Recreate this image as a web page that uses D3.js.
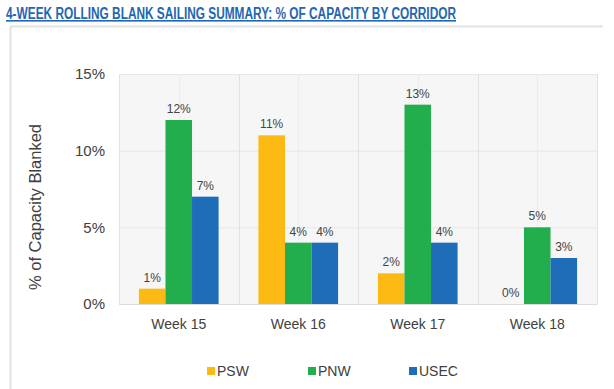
<!DOCTYPE html>
<html>
<head>
<meta charset="utf-8">
<script src="https://cdn.jsdelivr.net/npm/d3@7/dist/d3.min.js"></script>
<style>
  body { margin: 0; background: #fff; }
  svg { display: block; font-family: Arial, "Liberation Sans", sans-serif; }
</style>
</head>
<body>
<div id="chart"></div>
<script>
const width = 614;
const height = 389;

const weeks = ['Week 15', 'Week 16', 'Week 17', 'Week 18'];
const corridors = ['PSW', 'PNW', 'USEC'];
const psw = [1, 11, 2, 0];
const pnw = [12, 4, 13, 5];
const usec = [7, 4, 4, 3];
const yTicks = [0, 5, 10, 15];
const colors = ['#FDBA12', '#22AE4D', '#1E6DB8'];

const series = [psw, pnw, usec];
const margin = { top: 74, right: 17, bottom: 85, left: 119 };

const svg = d3
  .select('#chart')
  .append('svg')
  .attr('width', width)
  .attr('height', height);

// Title (narrow bold face, squeezed to the reference width)
svg
  .append('text')
  .attr('x', 6)
  .attr('y', 19)
  .attr('fill', '#2466B2')
  .attr('textLength', 450)
  .attr('lengthAdjust', 'spacingAndGlyphs')
  .style('font-weight', 'bold')
  .style('font-size', '16px')
  .style('text-decoration', 'underline')
  .text('4-WEEK ROLLING BLANK SAILING SUMMARY: % OF CAPACITY BY CORRIDOR');

// Frame
svg
  .append('path')
  .attr('d', `M10.5,${height} L10.5,26.5 L603,26.5`)
  .attr('fill', 'none')
  .attr('stroke', '#e2e2e2')
  .attr('stroke-width', 2);

const x = d3
  .scaleBand()
  .domain(weeks)
  .range([margin.left, width - margin.right]);

const xInner = d3
  .scaleBand()
  .domain(corridors)
  .range([0, x.bandwidth()])
  .paddingOuter(0.75);

const y = d3
  .scaleLinear()
  .domain([0, 15])
  .range([height - margin.bottom, margin.top]);

// Plot background
svg
  .append('rect')
  .attr('x', margin.left)
  .attr('y', margin.top)
  .attr('width', width - margin.left - margin.right)
  .attr('height', y(0) - margin.top)
  .attr('fill', '#f6f6f6');

// Gridlines
const grid = svg.append('g').attr('stroke', '#e6e6e6');
grid
  .selectAll('.hline')
  .data(yTicks)
  .enter()
  .append('line')
  .attr('x1', margin.left)
  .attr('x2', width - margin.right)
  .attr('y1', (d) => y(d) + 0.5)
  .attr('y2', (d) => y(d) + 0.5);

const vPos = [];
weeks.forEach((w) => {
  vPos.push(x(w));
  vPos.push(x(w) + x.bandwidth() / 2);
});
vPos.push(width - margin.right);
grid
  .selectAll('.vline')
  .data(vPos)
  .enter()
  .append('line')
  .attr('x1', (d) => Math.round(d) + 0.5)
  .attr('x2', (d) => Math.round(d) + 0.5)
  .attr('y1', margin.top)
  .attr('y2', y(0))
  .attr('stroke', (d, i) => (i % 2 ? '#ececec' : '#e2e2e2'));

// Bars
const groups = svg
  .selectAll('.week')
  .data(weeks)
  .enter()
  .append('g')
  .attr('transform', (d) => `translate(${x(d)},0)`);

groups
  .selectAll('rect')
  .data((d, i) => corridors.map((c, j) => ({ c, v: series[j][i], j })))
  .enter()
  .append('rect')
  .attr('x', (d) => xInner(d.c))
  .attr('width', xInner.bandwidth())
  .attr('y', (d) => y(d.v))
  .attr('height', (d) => y(0) - y(d.v))
  .attr('fill', (d) => colors[d.j]);

groups
  .selectAll('.lbl')
  .data((d, i) => corridors.map((c, j) => ({ c, v: series[j][i], j })))
  .enter()
  .append('text')
  .attr('x', (d) => xInner(d.c) + xInner.bandwidth() / 2)
  .attr('y', (d) => y(d.v) - 7)
  .attr('text-anchor', 'middle')
  .attr('fill', '#444')
  .style('font-size', '12px')
  .text((d) => d.v + '%');

// Y axis
const yAxis = svg
  .append('g')
  .attr('transform', `translate(${margin.left},0)`)
  .call(
    d3
      .axisLeft(y)
      .tickValues(yTicks)
      .tickSize(0)
      .tickPadding(14)
      .tickFormat((d) => d + '%')
  );
yAxis.select('.domain').remove();
yAxis
  .selectAll('text')
  .attr('fill', '#404040')
  .style('font-size', '15px')
  .style('font-family', 'Arial, "Liberation Sans", sans-serif');

// X axis
const xAxis = svg
  .append('g')
  .attr('transform', `translate(0,${y(0)})`)
  .call(d3.axisBottom(x).tickSize(0).tickPadding(15));
xAxis.select('.domain').attr('stroke', '#dcdcdc');
xAxis
  .selectAll('text')
  .attr('fill', '#404040')
  .style('font-size', '14px')
  .style('font-family', 'Arial, "Liberation Sans", sans-serif');

// Y label
svg
  .append('text')
  .attr('transform', `translate(41,${(y(0) + y(15)) / 2 + 18}) rotate(-90)`)
  .attr('text-anchor', 'middle')
  .attr('fill', '#404040')
  .style('font-size', '16.5px')
  .text('% of Capacity Blanked');

// Legend
const legendX = [207, 308, 409];
const legend = svg
  .selectAll('.legend')
  .data(corridors)
  .enter()
  .append('g')
  .attr('transform', (d, i) => `translate(${legendX[i]},367)`);
legend
  .append('rect')
  .attr('width', 8)
  .attr('height', 8)
  .attr('fill', (d, i) => colors[i]);
legend
  .append('text')
  .attr('x', 10)
  .attr('y', 9)
  .attr('fill', '#404040')
  .style('font-size', '14px')
  .text((d) => d);
</script>
</body>
</html>
